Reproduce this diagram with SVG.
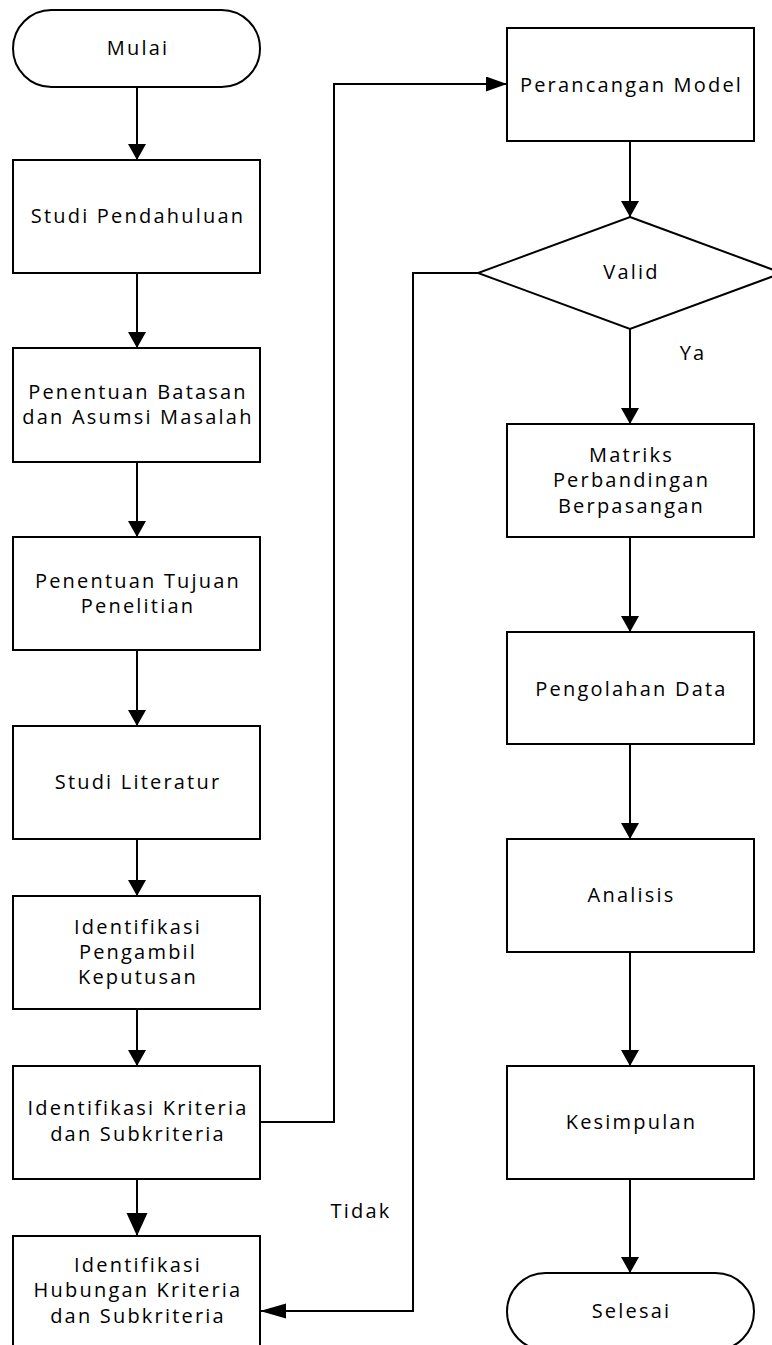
<svg xmlns="http://www.w3.org/2000/svg" width="772" height="1345" viewBox="0 0 772 1345">
<style>
  .shape { fill: #ffffff; stroke: #000000; stroke-width: 2; }
  .conn { fill: none; stroke: #000000; stroke-width: 2; }
  .t { font-family: "Open Sans", "Noto Sans", sans-serif; font-size: 20px; letter-spacing: 2.2px; fill: #000000; text-anchor: middle; }
</style>
<defs>
  <marker id="arrV" markerUnits="userSpaceOnUse" markerWidth="17" markerHeight="19" refX="16" refY="9" orient="auto">
    <path d="M0,0 L16,9 L0,18 z" fill="#000"/>
  </marker>
  <marker id="arrBig" markerUnits="userSpaceOnUse" markerWidth="24" markerHeight="22" refX="23" refY="10.5" orient="auto">
    <path d="M0,0 L23,10.5 L0,21 z" fill="#000"/>
  </marker>
  <marker id="arrH1" markerUnits="userSpaceOnUse" markerWidth="22" markerHeight="16" refX="21" refY="7.5" orient="auto">
    <path d="M0,0 L21,7.5 L0,15 z" fill="#000"/>
  </marker>
  <marker id="arrH2" markerUnits="userSpaceOnUse" markerWidth="27" markerHeight="16" refX="26" refY="7.5" orient="auto">
    <path d="M0,0 L26,7.5 L0,15 z" fill="#000"/>
  </marker>
</defs>
<rect width="772" height="1345" fill="#ffffff"/>

<g id="connectors">
  <path class="conn" d="M137,87 V160" marker-end="url(#arrV)"/>
  <path class="conn" d="M137,273 V348" marker-end="url(#arrV)"/>
  <path class="conn" d="M137,462 V537" marker-end="url(#arrV)"/>
  <path class="conn" d="M137,650 V726" marker-end="url(#arrV)"/>
  <path class="conn" d="M137,839 V896" marker-end="url(#arrV)"/>
  <path class="conn" d="M137,1009 V1066" marker-end="url(#arrV)"/>
  <path class="conn" d="M137,1179 V1236" marker-end="url(#arrBig)"/>
  <path class="conn" d="M260,1122 H334 V84 H507" marker-end="url(#arrH1)"/>
  <path class="conn" d="M630,141 V217" marker-end="url(#arrV)"/>
  <path class="conn" d="M630,329 V424" marker-end="url(#arrV)"/>
  <path class="conn" d="M630,537 V632" marker-end="url(#arrV)"/>
  <path class="conn" d="M630,744 V839" marker-end="url(#arrV)"/>
  <path class="conn" d="M630,952 V1066" marker-end="url(#arrV)"/>
  <path class="conn" d="M630,1179 V1273" marker-end="url(#arrV)"/>
  <path class="conn" d="M478,273 H413 V1311 H260" marker-end="url(#arrH2)"/>
  <text class="t" x="693" y="360">Ya</text>
  <text class="t" x="361" y="1218">Tidak</text>
</g>

<g id="mulai">
  <rect class="shape" x="13" y="10" width="247" height="77" rx="38.5" ry="38.5"/>
  <text class="t" x="138" y="55">Mulai</text>
</g>
<g id="studi-pendahuluan">
  <rect class="shape" x="13" y="160" width="247" height="113"/>
  <text class="t" x="138" y="223">Studi Pendahuluan</text>
</g>
<g id="penentuan-batasan">
  <rect class="shape" x="13" y="348" width="247" height="114"/>
  <text class="t" x="138" y="399">Penentuan Batasan</text>
  <text class="t" x="138" y="424">dan Asumsi Masalah</text>
</g>
<g id="penentuan-tujuan">
  <rect class="shape" x="13" y="537" width="247" height="113"/>
  <text class="t" x="138" y="588">Penentuan Tujuan</text>
  <text class="t" x="138" y="613">Penelitian</text>
</g>
<g id="studi-literatur">
  <rect class="shape" x="13" y="726" width="247" height="113"/>
  <text class="t" x="138" y="789">Studi Literatur</text>
</g>
<g id="identifikasi-pengambil">
  <rect class="shape" x="13" y="896" width="247" height="113"/>
  <text class="t" x="138" y="934">Identifikasi</text>
  <text class="t" x="138" y="959">Pengambil</text>
  <text class="t" x="138" y="984">Keputusan</text>
</g>
<g id="identifikasi-kriteria">
  <rect class="shape" x="13" y="1066" width="247" height="113"/>
  <text class="t" x="138" y="1115">Identifikasi Kriteria</text>
  <text class="t" x="138" y="1141">dan Subkriteria</text>
</g>
<g id="identifikasi-hubungan">
  <rect class="shape" x="13" y="1236" width="247" height="113"/>
  <text class="t" x="138" y="1272">Identifikasi</text>
  <text class="t" x="138" y="1297">Hubungan Kriteria</text>
  <text class="t" x="138" y="1323">dan Subkriteria</text>
</g>

<g id="perancangan-model">
  <rect class="shape" x="507" y="28" width="247" height="113"/>
  <text class="t" x="631.5" y="92">Perancangan Model</text>
</g>
<g id="valid">
  <polygon class="shape" points="630,217 782,273 630,329 478,273"/>
  <text class="t" x="631.5" y="279">Valid</text>
</g>
<g id="matriks">
  <rect class="shape" x="507" y="424" width="247" height="113"/>
  <text class="t" x="631.5" y="462">Matriks</text>
  <text class="t" x="631.5" y="487">Perbandingan</text>
  <text class="t" x="631.5" y="513">Berpasangan</text>
</g>
<g id="pengolahan-data">
  <rect class="shape" x="507" y="632" width="247" height="112"/>
  <text class="t" x="631.5" y="696">Pengolahan Data</text>
</g>
<g id="analisis">
  <rect class="shape" x="507" y="839" width="247" height="113"/>
  <text class="t" x="631.5" y="902">Analisis</text>
</g>
<g id="kesimpulan">
  <rect class="shape" x="507" y="1066" width="247" height="113"/>
  <text class="t" x="631.5" y="1129">Kesimpulan</text>
</g>
<g id="selesai">
  <rect class="shape" x="507" y="1273" width="247" height="77" rx="38.5" ry="38.5"/>
  <text class="t" x="631.5" y="1318">Selesai</text>
</g>
</svg>
